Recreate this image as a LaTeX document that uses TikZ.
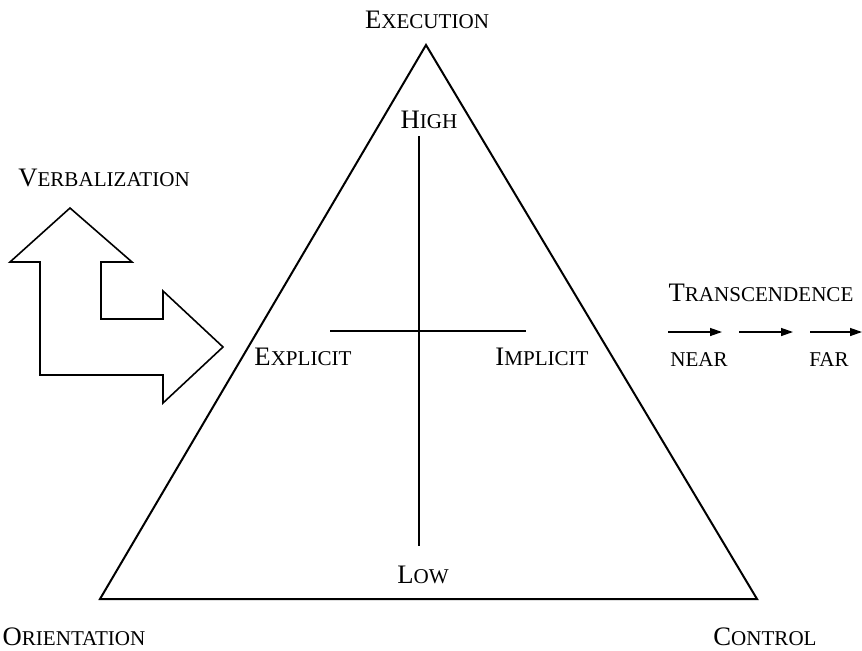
\documentclass[tikz,border=0pt]{standalone}
\usepackage{fontspec}
\setmainfont{Liberation Serif}
\usetikzlibrary{arrows.meta}
\newcommand{\capsc}[2]{#1{\fontsize{15.8}{19}\selectfont #2}}
\tikzset{every picture/.style={line width=0.75pt}}
\tikzset{lbl/.style={anchor=base,inner sep=0.75pt,font=\fontsize{20}{24}\selectfont}}
\tikzset{stepline/.style={line width=1pt,-{Triangle[length=9pt,width=6pt]}}}

\begin{document}
\begin{tikzpicture}[x=0.75pt,y=0.75pt,yscale=-1,xscale=1]
\useasboundingbox (0,0) rectangle (862,650);

% Triangle
\draw [line width=1.5pt,line join=miter] (426,45) -- (757,599) -- (100,599) -- cycle ;
% Cross
\draw [line width=1.5pt] (419,136) -- (419,546) ;
\draw [line width=1.5pt] (330,331) -- (526,331) ;
% Bent arrow
\draw [line width=1.2pt] (70,208) -- (132,262) -- (101,262) -- (101,319) -- (163,319) -- (163,291) -- (223,347) -- (163,403) -- (163,375) -- (40,375) -- (40,262) -- (10,262) -- cycle ;

% Text Node
\draw (427,28) node [lbl] (exe) {\capsc{E}{XECUTION}};
\draw (429,128) node [lbl] (high) {\capsc{H}{IGH}};
\draw (303,365) node [lbl] (expl) {\capsc{E}{XPLICIT}};
\draw (542,365) node [lbl] (impl) {\capsc{I}{MPLICIT}};
\draw (423,583) node [lbl] (low) {\capsc{L}{OW}};
\draw (74,645) node [lbl] (ori) {\capsc{O}{RIENTATION}};
\draw (765,645) node [lbl] (ctrl) {\capsc{C}{ONTROL}};
\draw (104,186) node [lbl] (verb) {\capsc{V}{ERBALIZATION}};
\draw (761,301) node [lbl] (trans) {\capsc{T}{RANSCENDENCE}};
\draw (699,366) node [lbl] (near) {\capsc{}{NEAR}};
\draw (829,366) node [lbl] (far) {\capsc{}{FAR}};

% Connection
\coordinate (s1) at (668,332);
\coordinate (s2) at (722,332);
\coordinate (s3) at (739,332);
\coordinate (s4) at (793,332);
\coordinate (s5) at (810,332);
\coordinate (s6) at (862,332);
\draw [stepline] (s1) -- (s2) ;
\draw [stepline] (s3) -- (s4) ;
\draw [stepline] (s5) -- (s6) ;

\end{tikzpicture}
\end{document}
